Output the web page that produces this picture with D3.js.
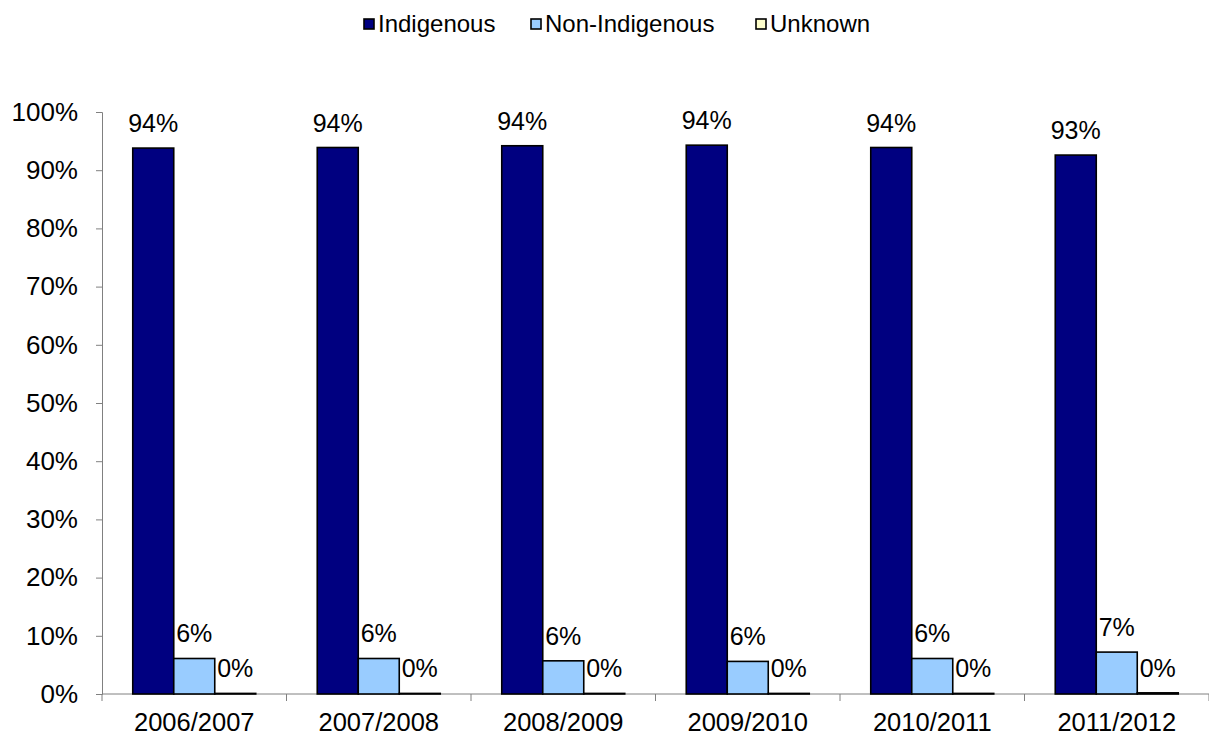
<!DOCTYPE html>
<html>
<head>
<meta charset="utf-8">
<script src="https://cdn.jsdelivr.net/npm/d3@7"></script>
<style>
  html, body { margin: 0; padding: 0; background: #fff; }
  svg { display: block; font-family: "Liberation Sans", Arial, sans-serif; }
</style>
</head>
<body>
<svg id="chart" width="1209" height="738"></svg>
<script>
// Share of records by Indigenous status, per financial year
const years = ["2006/2007", "2007/2008", "2008/2009", "2009/2010", "2010/2011", "2011/2012"];
const seriesNames = ["Indigenous", "Non-Indigenous", "Unknown"];
const indigenous = [93.8, 93.9, 94.2, 94.3, 93.9, 92.6];
const nonIndigenous = [6.1, 6.1, 5.7, 5.6, 6.1, 7.2];
const unknown = [0.1, 0.1, 0.1, 0.1, 0.1, 0.2];
const yTicks = [0, 10, 20, 30, 40, 50, 60, 70, 80, 90, 100];
const colors = ["#000080", "#99CCFF", "#FFFFCC"];

const seriesValues = [indigenous, nonIndigenous, unknown];

const svg = d3.select("#chart");
const margin = { left: 102, right: 0, top: 112, bottom: 44 };
const W = 1209, H = 738;
const plotBottom = H - margin.bottom;

const x0 = d3.scaleBand().domain(years).range([margin.left, W - margin.right])
  .paddingInner(0).paddingOuter(0);
const x1 = d3.scaleBand().domain(seriesNames).range([0, x0.bandwidth()])
  .paddingInner(0).paddingOuter(0.75);
const y = d3.scaleLinear().domain([0, 100]).range([plotBottom, margin.top]);

const axisColor = "#808080";

// Y axis
const yAxis = svg.append("g")
  .attr("transform", `translate(${margin.left},0)`)
  .call(d3.axisLeft(y).tickValues(yTicks).tickFormat(d => d + "%").tickSize(6).tickPadding(18));
yAxis.select(".domain").attr("stroke", axisColor);
yAxis.selectAll(".tick line").attr("stroke", axisColor);
yAxis.selectAll(".tick text").attr("font-size", 26).attr("fill", "#000")
  .attr("font-family", "Liberation Sans, Arial, sans-serif");

// X axis: ticks at category boundaries, labels centered in each band
const boundaries = years.map(d => x0(d)).concat([x0.range()[1]]);
const xg = svg.append("g");
xg.append("line")
  .attr("x1", margin.left).attr("x2", W - margin.right)
  .attr("y1", plotBottom).attr("y2", plotBottom)
  .attr("stroke", axisColor).attr("stroke-width", 1);
xg.selectAll("line.tk").data(boundaries).join("line").attr("class", "tk")
  .attr("x1", d => d).attr("x2", d => d)
  .attr("y1", plotBottom).attr("y2", plotBottom + 7)
  .attr("stroke", axisColor);
xg.selectAll("text").data(years).join("text")
  .attr("x", d => x0(d) + x0.bandwidth() / 2)
  .attr("y", plotBottom + 37)
  .attr("text-anchor", "middle")
  .attr("font-size", 25.5)
  .text(d => d);

// Bars
const groups = svg.append("g").selectAll("g").data(years).join("g")
  .attr("transform", d => `translate(${x0(d)},0)`);

seriesNames.forEach((name, si) => {
  groups.append("rect")
    .attr("x", x1(name))
    .attr("width", x1.bandwidth())
    .attr("y", (d, i) => y(seriesValues[si][i]))
    .attr("height", (d, i) => y(0) - y(seriesValues[si][i]))
    .attr("fill", colors[si])
    .attr("stroke", "#000")
    .attr("stroke-width", 1.6);
  groups.append("text")
    .attr("x", x1(name) + x1.bandwidth() / 2)
    .attr("y", (d, i) => y(seriesValues[si][i]) - 16)
    .attr("text-anchor", "middle")
    .attr("font-size", 25)
    .text((d, i) => Math.round(seriesValues[si][i]) + "%");
});

// Legend
const legend = svg.append("g");
const legendStarts = [364, 531, 756];
seriesNames.forEach((name, i) => {
  const gx = legendStarts[i];
  legend.append("rect")
    .attr("x", gx).attr("y", 19).attr("width", 10).attr("height", 10)
    .attr("fill", colors[i]).attr("stroke", "#000").attr("stroke-width", 1.6);
  legend.append("text")
    .attr("x", gx + 14).attr("y", 32)
    .attr("font-size", 24)
    .text(name);
});
</script>
</body>
</html>
